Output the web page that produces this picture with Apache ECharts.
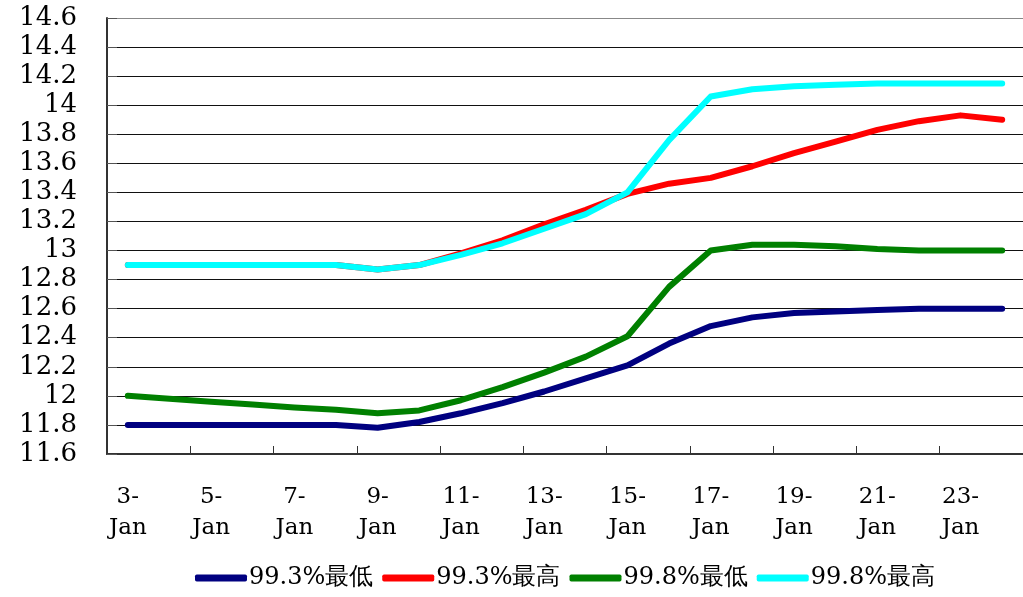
<!DOCTYPE html>
<html>
<head>
<meta charset="utf-8">
<script src="https://cdn.jsdelivr.net/npm/echarts@6/dist/echarts.min.js"></script>
<style>
html,body{margin:0;padding:0;background:#fff;}
#chart{width:1023px;height:597px;}
</style>
</head>
<body>
<div id="chart"></div>
<script>
const categories = ['3-Jan','4-Jan','5-Jan','6-Jan','7-Jan','8-Jan','9-Jan','10-Jan','11-Jan','12-Jan','13-Jan','14-Jan','15-Jan','16-Jan','17-Jan','18-Jan','19-Jan','20-Jan','21-Jan','22-Jan','23-Jan','24-Jan'];
const seriesNames = ['99.3%最低','99.3%最高','99.8%最低','99.8%最高'];
const low993  = [11.8,11.8,11.8,11.8,11.8,11.8,11.78,11.82,11.88,11.95,12.03,12.12,12.21,12.36,12.48,12.54,12.57,12.58,12.59,12.6,12.6,12.6];
const high993 = [12.9,12.9,12.9,12.9,12.9,12.9,12.87,12.9,12.98,13.07,13.18,13.28,13.39,13.46,13.5,13.58,13.67,13.75,13.83,13.89,13.93,13.9];
const low998  = [12.0,11.98,11.96,11.94,11.92,11.905,11.88,11.9,11.97,12.06,12.16,12.27,12.41,12.75,13.0,13.04,13.04,13.03,13.01,13.0,13.0,13.0];
const high998 = [12.9,12.9,12.9,12.9,12.9,12.9,12.87,12.9,12.97,13.05,13.15,13.25,13.4,13.76,14.06,14.11,14.13,14.14,14.15,14.15,14.15,14.15];
const colors = ['#000080','#ff0000','#008000','#00ffff'];
const values = [low993, high993, low998, high998];

const chart = echarts.init(document.getElementById('chart'), null, {renderer:'canvas'});
const font = '"DejaVu Serif", "Liberation Serif", serif';
const gridColors = ['#111','#111','#111','#111','#111','#111','#111','#111','#111','#111','#111','#111','#111','#111','#111','#888'];
chart.setOption({
  animation:false,
  backgroundColor:'#fff',
  grid:{left:107, right:-8, top:18, bottom:143},
  legend:{
    bottom:2, left:190,
    itemWidth:52, itemHeight:7, itemGap:9,
    icon:'roundRect',
    textStyle:{fontFamily:font, fontSize:24, color:'#000', padding:[0,0,0,-3]},
    data:seriesNames
  },
  xAxis:{
    type:'category', data:categories, boundaryGap:true,
    axisLine:{show:true, lineStyle:{color:'#333', width:2}},
    axisTick:{show:true, inside:true, length:8, interval:1, lineStyle:{color:'#333', width:1}},
    axisLabel:{interval:1, margin:28, fontFamily:font, fontSize:23, color:'#000', lineHeight:31,
      formatter:function(v){const p=v.split('-'); return p[0]+'-\n'+p[1];}},
    splitLine:{show:false}
  },
  yAxis:{
    type:'value', min:11.6, max:14.6, interval:0.2,
    axisLine:{show:true, lineStyle:{color:'#333', width:2}},
    axisTick:{show:true, inside:true, length:10, lineStyle:{color:'#555'}},
    axisLabel:{margin:30, fontFamily:font, fontSize:26, color:'#000',
      formatter:function(v){return String(Math.round(v*10)/10);}},
    splitLine:{show:true, lineStyle:{color:gridColors, width:1}}
  },
  series: seriesNames.map((n,i)=>({
    name:n, type:'line', data:values[i], showSymbol:false, symbol:'none',
    lineStyle:{color:colors[i], width:6, cap:'round', join:'round'},
    itemStyle:{color:colors[i]}
  }))
});
</script>
</body>
</html>
